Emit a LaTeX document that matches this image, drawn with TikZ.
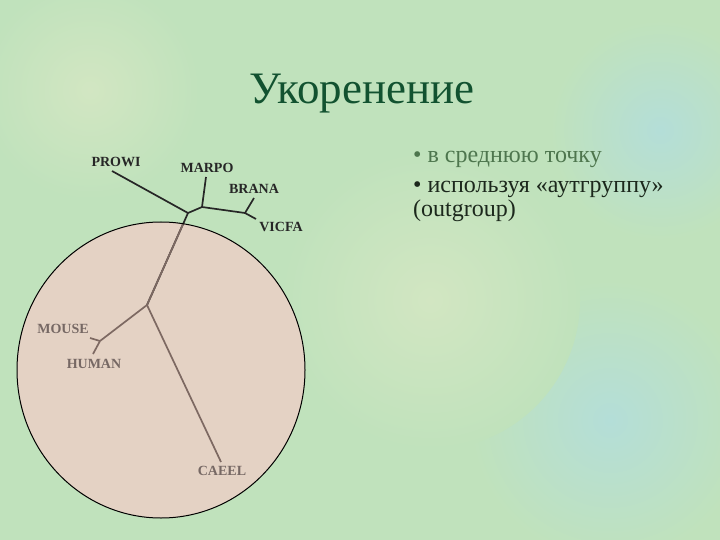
\documentclass[tikz,border=0pt]{standalone}
\usepackage{fontspec}
\setmainfont{Liberation Serif}
\definecolor{bgcol}{RGB}{192,226,188}
\definecolor{bgblue}{RGB}{180,222,216}
\definecolor{bgpale}{RGB}{210,230,194}
\definecolor{circfill}{RGB}{228,210,196}
\definecolor{titlecol}{RGB}{18,82,48}
\definecolor{bullone}{RGB}{78,118,78}
\definecolor{bulltwo}{RGB}{28,40,28}
\definecolor{innerline}{RGB}{125,105,98}
\definecolor{innertext}{RGB}{118,104,100}
\tikzset{
  outerbranch/.style={draw=black!85, line width=1.7pt},
  innerbranch/.style={draw=innerline, line width=1.7pt},
  outerlabel/.style={font=\bfseries\fontsize{14}{16}\selectfont, text=black!85, inner sep=0pt},
  innerlabel/.style={font=\bfseries\fontsize{14}{16}\selectfont, text=innertext, inner sep=0pt},
  bodytext/.style={font=\fontsize{24}{28}\selectfont, inner sep=0pt, anchor=base west},
  softpatch/.style={inner color=#1, outer color=bgcol}
}
\begin{document}
\begin{tikzpicture}[x=1pt,y=-1pt]
\useasboundingbox (0,0) rectangle (720,540);
\fill[bgcol] (0,0) rectangle (720,540);
\begin{scope}
\clip (0,0) rectangle (720,540);
\shade[softpatch=bgblue] (660,130) circle [radius=110];
\shade[softpatch=bgblue] (610,420) circle [radius=140];
\shade[softpatch=bgpale] (430,300) circle [radius=150];
\shade[softpatch=bgpale] (90,90) circle [radius=110];
\end{scope}
% circle
\fill[circfill] (161,370) ellipse [x radius=144, y radius=148];
% internal nodes and leaf ends
\coordinate (A) at (188,213);
\coordinate (B) at (202,207);
\coordinate (C) at (245,213);
\coordinate (D) at (147,305);
\coordinate (E) at (100,341);
\coordinate (prowiend) at (112,171);
\coordinate (marpoend) at (206,177);
\coordinate (branaend) at (254,198);
\coordinate (vicfaend) at (256,219);
\coordinate (mouseend) at (90,338);
\coordinate (humanend) at (93,354);
\coordinate (caeelend) at (221,462);
% outer branches
\draw[outerbranch] (A) -- (prowiend);
\draw[outerbranch] (A) -- (B);
\draw[outerbranch] (B) -- (marpoend);
\draw[outerbranch] (B) -- (C);
\draw[outerbranch] (C) -- (branaend);
\draw[outerbranch] (C) -- (vicfaend);
\draw[outerbranch] (A) -- (D);
\begin{scope}
\clip (161,370) ellipse [x radius=144, y radius=148];
\draw[innerbranch] (A) -- (D);
\end{scope}
% inner branches
\draw[innerbranch] (D) -- (E);
\draw[innerbranch] (E) -- (mouseend);
\draw[innerbranch] (E) -- (humanend);
\draw[innerbranch] (D) -- (caeelend);
% circle border
\draw[black, line width=1pt] (161,370) ellipse [x radius=144, y radius=148];
% labels
\node[outerlabel] (prowi) at (116,162) {PROWI};
\node[outerlabel] (marpo) at (207,168) {MARPO};
\node[outerlabel] (brana) at (254,189) {BRANA};
\node[outerlabel] (vicfa) at (281,227) {VICFA};
\node[innerlabel] (mouse) at (63,329) {MOUSE};
\node[innerlabel] (human) at (94,364) {HUMAN};
\node[innerlabel] (caeel) at (222,471) {CAEEL};
% title
\node[font=\fontsize{45}{52}\selectfont, text=titlecol, inner sep=0pt, anchor=base] (title) at (362,104) {Укоренение};
% bullets
\node[bodytext, text=bullone] (lineone) at (413,163) {• в среднюю точку};
\node[bodytext, text=bulltwo] (linetwo) at (413,193) {• используя «аутгруппу»};
\node[bodytext, text=bulltwo] (linethree) at (413,216) {(outgroup)};
\end{tikzpicture}
\end{document}
